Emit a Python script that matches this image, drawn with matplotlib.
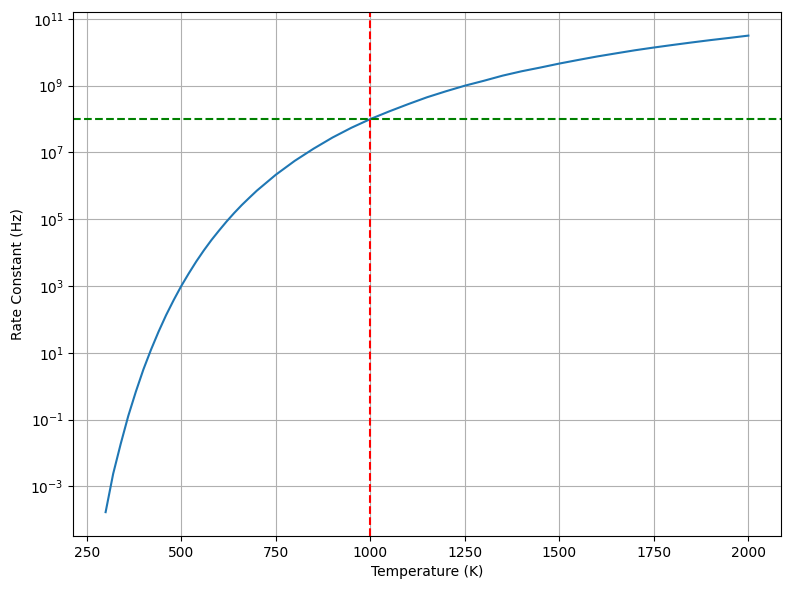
import matplotlib.pyplot as plt

# Values (temperature in K, rate constant in Hz)
temperature = [300, 320, 340, 360, 380, 400, 420, 440, 460, 480, 500, 520, 540,
               560, 580, 600, 620, 640, 660, 680, 700, 750, 800, 850, 900, 950,
               1000, 1050, 1100, 1150, 1200, 1250, 1300, 1350, 1400, 1450,
               1500, 1550, 1600, 1650, 1700, 1750, 1800, 1850, 1900, 1950, 2000]
rate = [1.7e-4, 2.4e-3, 1.9e-2, 1.3e-1, 6.9e-1, 3.2e0, 1.24e1, 4.3e1, 1.35e2,
        3.8e2, 1.0e3, 2.4e3, 5.5e3, 1.18e4, 2.4e4, 4.6e4, 8.6e4, 1.54e5,
        2.66e5, 4.4e5, 7.2e5, 2.15e6, 5.6e6, 1.3e7, 2.8e7, 5.5e7, 1.0e8,
        1.7e8, 2.8e8, 4.5e8, 6.8e8, 1.0e9, 1.4e9, 2.0e9, 2.7e9, 3.5e9,
        4.6e9, 5.9e9, 7.5e9, 9.3e9, 1.15e10, 1.39e10, 1.66e10, 1.97e10,
        2.32e10, 2.7e10, 3.16e10]

ref_temperature = 1000
ref_rate = 1e8

fig = plt.figure(figsize=(7.9, 5.89), dpi=100)
plt.plot(temperature, rate)
plt.axvline(ref_temperature, color='r', linestyle='--')
plt.axhline(ref_rate, color='g', linestyle='--')
plt.yscale('log')
plt.xlabel('Temperature (K)')
plt.ylabel('Rate Constant (Hz)')
plt.grid(True)
fig.subplots_adjust(left=0.093, right=0.988, top=0.980, bottom=0.09)
plt.savefig('out.png')
